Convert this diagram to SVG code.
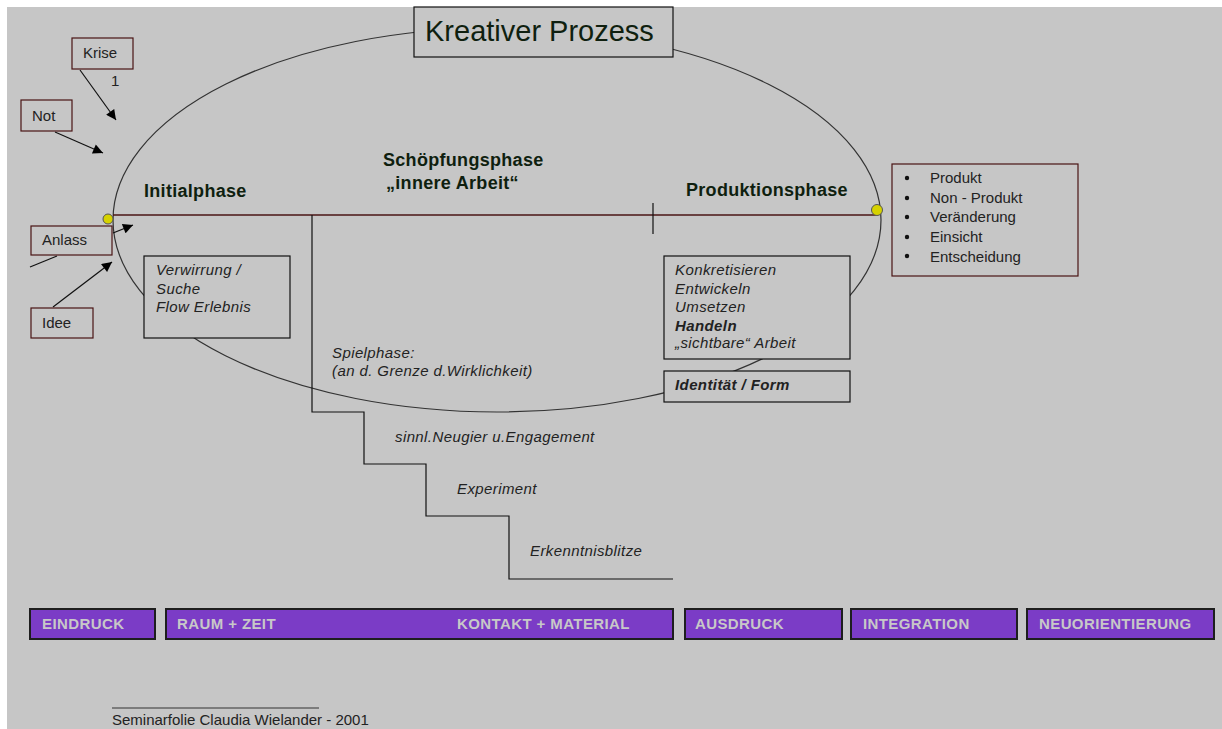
<svg xmlns="http://www.w3.org/2000/svg" width="1222" height="729" viewBox="0 0 1222 729">
<style>
.bg{fill:#c6c6c6}
.box{fill:#c6c6c6;stroke:#111;stroke-width:1.2}
.rbox{fill:#c6c6c6;stroke:#4a1414;stroke-width:1.2}
.t{font-family:"Liberation Sans",Arial,sans-serif;fill:#222;font-size:15px}
.it{font-style:italic;letter-spacing:0.4px}
.h{font-family:"Liberation Sans",Arial,sans-serif;fill:#0f1f0f;font-size:18px;font-weight:bold;letter-spacing:0.3px}
.bar{fill:#7b3cc6;stroke:#1e1e1e;stroke-width:2}
.bt{font-family:"Liberation Sans",Arial,sans-serif;fill:#c8c8c8;font-size:15px;font-weight:bold;letter-spacing:0.4px}
.ln{fill:none;stroke:#111;stroke-width:1.2}
.dot{fill:#d6d200;stroke:#555;stroke-width:1}
</style>
<defs>
<marker id="ah" viewBox="0 0 10 10" refX="10" refY="5" markerWidth="11" markerHeight="10" markerUnits="userSpaceOnUse" orient="auto">
<path d="M0,0 L10,5 L0,10 z" fill="#000"/>
</marker>
</defs>
<rect x="0" y="0" width="1222" height="729" fill="#fff"/>
<rect class="bg" x="7" y="7" width="1215" height="722"/>

<g id="process-ellipse">
<ellipse cx="497" cy="220" rx="384" ry="192" fill="none" stroke="#333" stroke-width="1.2"/>
</g>

<g id="connectors">
<line x1="113" y1="215" x2="876" y2="215" stroke="#4a1414" stroke-width="1.5"/>
<line class="ln" x1="653" y1="203" x2="653" y2="234"/>
<polyline class="ln" points="312,215 312,412 364,412 364,464 426,464 426,516 509,516 509,579 673,579"/>
<line class="ln" x1="80" y1="70" x2="116" y2="120" marker-end="url(#ah)"/>
<line class="ln" x1="55" y1="132" x2="103" y2="153" marker-end="url(#ah)"/>
<line class="ln" x1="113" y1="233" x2="133" y2="225" marker-end="url(#ah)"/>
<line class="ln" x1="53" y1="307" x2="112" y2="262" marker-end="url(#ah)"/>
<line class="ln" x1="30" y1="267" x2="57" y2="256"/>
</g>

<g id="title">
<rect class="box" x="414" y="7" width="259" height="50"/>
<text x="425" y="41" font-family="Liberation Sans,Arial,sans-serif" font-size="29" fill="#0f1f0f">Kreativer Prozess</text>
</g>

<g id="start-dot"><circle class="dot" cx="108" cy="219" r="5"/></g>
<g id="end-dot"><circle class="dot" cx="877" cy="210" r="5.5"/></g>

<g id="krise">
<rect class="rbox" x="72" y="38" width="61" height="31"/>
<text class="t" x="83" y="58">Krise</text>
<text class="t" x="111" y="86" font-size="9">1</text>
</g>
<g id="not">
<rect class="rbox" x="21" y="100" width="51" height="31"/>
<text class="t" x="32" y="121">Not</text>
</g>
<g id="anlass">
<rect class="rbox" x="31" y="226" width="81" height="29"/>
<text class="t" x="42" y="245">Anlass</text>
</g>
<g id="idee">
<rect class="rbox" x="31" y="308" width="62" height="30"/>
<text class="t" x="42" y="328">Idee</text>
</g>

<g id="phase-labels">
<text class="h" x="144" y="197">Initialphase</text>
<text class="h" x="383" y="166">Schöpfungsphase</text>
<text class="h" x="386" y="189">„innere Arbeit“</text>
<text class="h" x="686" y="196">Produktionsphase</text>
</g>

<g id="verwirrung">
<rect class="box" x="144" y="256" width="146" height="82"/>
<text class="t it" x="156" y="275">Verwirrung /</text>
<text class="t it" x="156" y="294">Suche</text>
<text class="t it" x="156" y="312">Flow Erlebnis</text>
</g>

<g id="spielphase">
<text class="t it" x="332" y="358">Spielphase:</text>
<text class="t it" x="332" y="376">(an d. Grenze d.Wirklichkeit)</text>
</g>

<g id="steps">
<text class="t it" x="395" y="442">sinnl.Neugier u.Engagement</text>
<text class="t it" x="457" y="494">Experiment</text>
<text class="t it" x="530" y="556">Erkenntnisblitze</text>
</g>

<g id="konkretisieren">
<rect class="box" x="664" y="256" width="186" height="103"/>
<text class="t it" x="675" y="275">Konkretisieren</text>
<text class="t it" x="675" y="294">Entwickeln</text>
<text class="t it" x="675" y="312">Umsetzen</text>
<text class="t it" x="675" y="331" font-weight="bold" fill="#000">Handeln</text>
<text class="t it" x="675" y="348">„sichtbare“ Arbeit</text>
</g>

<g id="identitaet">
<rect class="box" x="664" y="371" width="186" height="31"/>
<text class="t it" x="675" y="390" font-weight="bold" fill="#000">Identität / Form</text>
</g>

<g id="results">
<rect class="rbox" x="892" y="164" width="186" height="112"/>
<g fill="#111">
<circle cx="907" cy="178" r="2.2"/>
<circle cx="907" cy="198" r="2.2"/>
<circle cx="907" cy="217" r="2.2"/>
<circle cx="907" cy="237" r="2.2"/>
<circle cx="907" cy="256" r="2.2"/>
</g>
<text class="t" x="930" y="183">Produkt</text>
<text class="t" x="930" y="203">Non - Produkt</text>
<text class="t" x="930" y="222">Veränderung</text>
<text class="t" x="930" y="242">Einsicht</text>
<text class="t" x="930" y="262">Entscheidung</text>
</g>

<g id="bar-eindruck">
<rect class="bar" x="30" y="609" width="125" height="30"/>
<text class="bt" x="42" y="629">EINDRUCK</text>
</g>
<g id="bar-raum">
<rect class="bar" x="166" y="609" width="507" height="30"/>
<text class="bt" x="177" y="629">RAUM + ZEIT</text>
<text class="bt" x="457" y="629">KONTAKT + MATERIAL</text>
</g>
<g id="bar-ausdruck">
<rect class="bar" x="685" y="609" width="157" height="30"/>
<text class="bt" x="695" y="629">AUSDRUCK</text>
</g>
<g id="bar-integration">
<rect class="bar" x="851" y="609" width="166" height="30"/>
<text class="bt" x="863" y="629">INTEGRATION</text>
</g>
<g id="bar-neuorientierung">
<rect class="bar" x="1027" y="609" width="187" height="30"/>
<text class="bt" x="1039" y="629">NEUORIENTIERUNG</text>
</g>

<g id="footer">
<line x1="112" y1="708" x2="319" y2="708" stroke="#333" stroke-width="1.2"/>
<text class="t" x="112" y="725" font-size="14">Seminarfolie Claudia Wielander - 2001</text>
</g>
</svg>
